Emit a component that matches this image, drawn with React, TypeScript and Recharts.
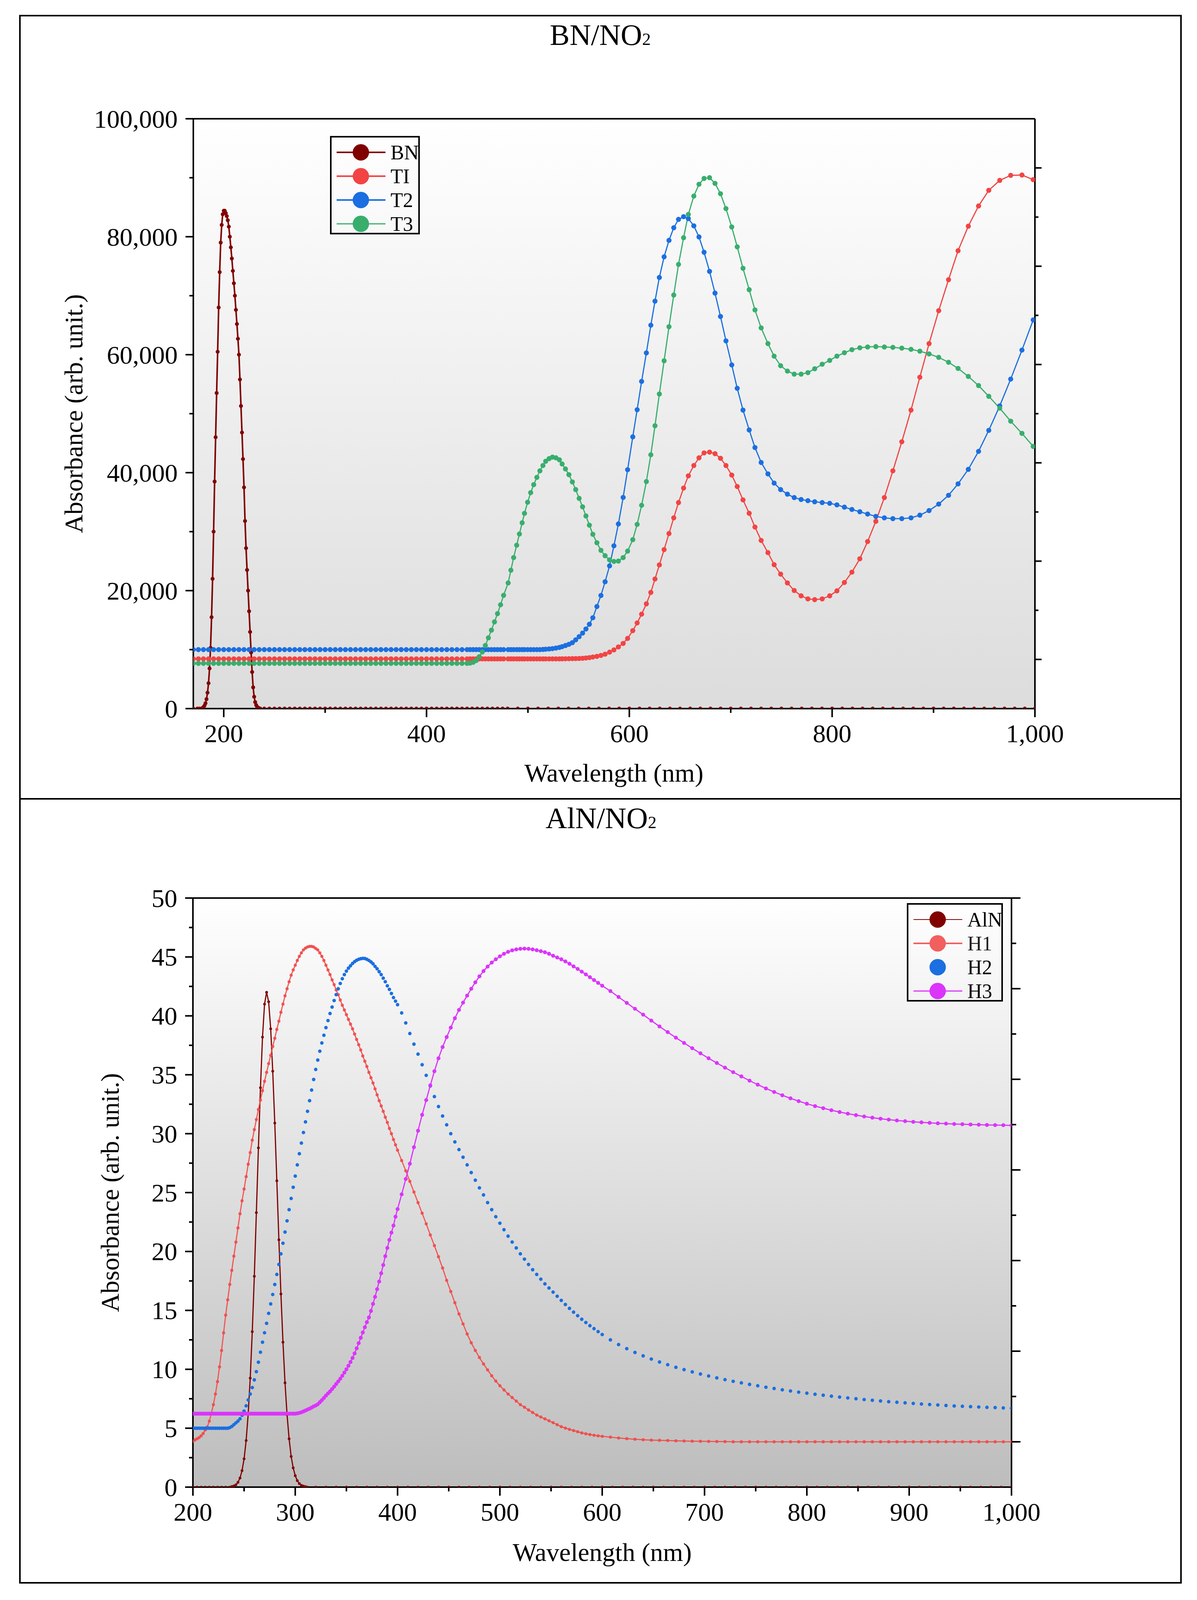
import { LineChart, Line, XAxis, YAxis, CartesianGrid, Legend, ReferenceLine } from "recharts";

const FONT = '"Liberation Serif", "Times New Roman", serif';

// ---------- BN/NO2 panel ----------
const bnWavelength = [
  170, 174, 176,
  178, 179, 180, 181, 182, 183, 184, 185, 186, 187,
  188, 189, 190, 191, 192, 193, 194, 195, 196, 197,
  198, 199, 200, 201, 202, 203, 204, 205, 206, 207,
  208, 209, 210, 211, 212, 213, 214, 215, 216, 217,
  218, 219, 220, 221, 222, 223, 224, 225, 226, 227,
  228, 229, 230, 231, 232, 233, 234, 235, 236,
  240, 245, 250, 255, 260, 265, 270, 275, 280, 285,
  290, 295, 300, 305, 310, 315, 320, 325, 330, 335,
  340, 345, 350, 355, 360, 365, 370, 375, 380, 385,
  390, 395, 400, 405, 410, 415, 420, 425, 430, 435,
  440, 445, 450, 455, 460, 465, 470, 475, 480,
  490, 500, 510, 520, 530, 540, 550, 560, 570, 580,
  590, 600, 610, 620, 630, 640, 650, 660, 670, 680,
  690, 700, 710, 720, 730, 740, 750, 760, 770, 780,
  790, 800, 810, 820, 830, 840, 850, 860, 870, 880,
  890, 900, 910, 920, 930, 940, 950, 960, 970, 980,
  990, 1000,
];
const bnAbsorbance = [
  0, 0, 0,
  0, 100, 250, 500, 900, 1600, 2700, 4300, 6800, 10300,
  15500, 22000, 30000, 38500, 46000, 53500, 60500, 68000, 74000, 79000,
  82000, 83800, 84400, 84400, 84000, 83500, 82800, 81700, 80000, 78200,
  76300, 74200, 72100, 70000, 67600, 65200, 62700, 60000, 55800, 51300,
  46800, 42300, 37500, 31800, 27200, 23500, 20000, 16500, 13000, 9500,
  6200, 3600, 2000, 1100, 600, 300, 150, 50, 0,
  0, 0, 0, 0, 0, 0, 0, 0, 0, 0,
  0, 0, 0, 0, 0, 0, 0, 0, 0, 0,
  0, 0, 0, 0, 0, 0, 0, 0, 0, 0,
  0, 0, 0, 0, 0, 0, 0, 0, 0, 0,
  0, 0, 0, 0, 0, 0, 0, 0, 0,
  0, 0, 0, 0, 0, 0, 0, 0, 0, 0,
  0, 0, 0, 0, 0, 0, 0, 0, 0, 0,
  0, 0, 0, 0, 0, 0, 0, 0, 0, 0,
  0, 0, 0, 0, 0, 0, 0, 0, 0, 0,
  0, 0, 0, 0, 0, 0, 0, 0, 0, 0,
  0, 0,
];

// wavelength grid shared by T1, T2, T3 (flat UV part, then the measured visible part)
const tWavelengthUv = [
  170, 175, 180, 185, 190, 195, 200, 205, 210, 215,
  220, 225, 230, 235, 240, 245, 250, 255, 260, 265,
  270, 275, 280, 285, 290, 295, 300, 305, 310, 315,
  320, 325, 330, 335, 340, 345, 350, 355, 360, 365,
  370, 375, 380, 385, 390, 395, 400, 405, 410, 415,
  420, 425, 430, 435, 440,
  443, 446, 449, 452, 455, 458, 461, 464, 467, 470, 473, 476,
];
const tWavelengthVis = [
  480.5, 483.2, 485.9, 488.9, 491.6, 494.3, 496.6, 499.7, 502.7, 505.7,
  508.8, 511.8, 514.8, 517.5, 520.9, 524.2, 527.6, 531.0, 533.7, 537.0,
  540.4, 543.8, 547.1, 550.5, 553.9, 557.2, 560.6, 564.0, 568.0, 572.0,
  576.1, 580.5, 584.8, 589.2, 593.9, 598.3, 603.4, 607.7, 612.1, 616.8,
  621.2, 625.3, 629.6, 634.3, 639.1, 643.8, 648.5, 653.5, 658.2, 663.6,
  668.7, 673.7, 679.1, 684.5, 689.9, 695.3, 701.0, 706.4, 712.1, 718.2,
  723.9, 730.0, 736.7, 742.8, 749.2, 755.9, 762.6, 769.4, 776.1, 782.8,
  790.2, 797.6, 804.7, 812.1, 819.5, 827.3, 835.0, 843.1, 851.5, 859.9,
  868.7, 877.8, 886.5, 895.6, 905.1, 914.8, 924.2, 934.3, 944.4, 954.5,
  965.3, 976.1, 987.2, 998.3,
];

const t1Uv = [
  8430, 8430, 8430, 8430, 8430, 8430, 8430, 8430, 8430, 8430,
  8430, 8430, 8430, 8430, 8430, 8430, 8430, 8430, 8430, 8430,
  8430, 8430, 8430, 8430, 8430, 8430, 8430, 8430, 8430, 8430,
  8430, 8430, 8430, 8430, 8430, 8430, 8430, 8430, 8430, 8430,
  8430, 8430, 8430, 8430, 8430, 8430, 8430, 8430, 8430, 8430,
  8430, 8430, 8430, 8430, 8430,
  8430, 8430, 8430, 8430, 8430, 8430, 8430, 8430, 8430, 8430, 8430, 8430,
];
const t1Vis = [
  8430, 8430, 8430, 8430, 8430, 8430, 8430, 8430, 8430, 8430,
  8430, 8430, 8430, 8430, 8430, 8430, 8430, 8430, 8440, 8450,
  8460, 8470, 8480, 8500, 8530, 8580, 8650, 8750, 8850, 9010,
  9230, 9570, 9950, 10450, 11050, 11900, 13220, 14520, 16010, 17760,
  19700, 21970, 24360, 26960, 29680, 32340, 34930, 37390, 39460, 41210,
  42510, 43350, 43480, 43220, 42440, 41210, 39590, 37650, 35380, 33110,
  30780, 28510, 26440, 24400, 22800, 21300, 20020, 19120, 18600, 18470,
  18600, 19120, 19960, 21380, 23130, 25400, 28320, 31750, 35770, 40310,
  45230, 50610, 56180, 61880, 67460, 72710, 77630, 81780, 85210, 87870,
  89550, 90400, 90460, 89680,
];

const t2Uv = [
  10000, 10000, 10000, 10000, 10000, 10000, 10000, 10000, 10000, 10000,
  10000, 10000, 10000, 10000, 10000, 10000, 10000, 10000, 10000, 10000,
  10000, 10000, 10000, 10000, 10000, 10000, 10000, 10000, 10000, 10000,
  10000, 10000, 10000, 10000, 10000, 10000, 10000, 10000, 10000, 10000,
  10000, 10000, 10000, 10000, 10000, 10000, 10000, 10000, 10000, 10000,
  10000, 10000, 10000, 10000, 10000,
  10000, 10000, 10000, 10000, 10000, 10000, 10000, 10000, 10000, 10000, 10000, 10000,
];
const t2Vis = [
  10000, 10000, 10000, 10000, 10000, 10000, 10000, 10000, 10000, 10000,
  10000, 10000, 10030, 10070, 10110, 10170, 10260, 10370, 10500, 10690,
  10900, 11180, 11660, 12200, 12800, 13500, 14300, 15400, 17300, 19180,
  21500, 24200, 27600, 31300, 35800, 40500, 46070, 50670, 55470, 60300,
  65000, 69080, 73090, 76590, 79380, 81520, 82940, 83400, 83070, 81840,
  79960, 77370, 74130, 70440, 66480, 62340, 58260, 54300, 50610, 47240,
  44260, 41730, 39790, 38230, 37130, 36350, 35770, 35450, 35250, 35060,
  34930, 34800, 34540, 34150, 33760, 33370, 32980, 32590, 32340, 32210,
  32210, 32340, 32790, 33570, 34670, 36160, 38100, 40560, 43610, 47170,
  51320, 55860, 60780, 65900,
];

const t3Uv = [
  7670, 7670, 7670, 7670, 7670, 7670, 7670, 7670, 7670, 7670,
  7670, 7670, 7670, 7670, 7670, 7670, 7670, 7670, 7670, 7670,
  7670, 7670, 7670, 7670, 7670, 7670, 7670, 7670, 7670, 7670,
  7670, 7670, 7670, 7670, 7670, 7670, 7670, 7670, 7670, 7670,
  7670, 7670, 7670, 7670, 7670, 7670, 7670, 7670, 7670, 7670,
  7670, 7670, 7670, 7670, 7670,
  7720, 7850, 8150, 8800, 9600, 10700, 12000, 13300, 14700, 16100, 17600, 19200,
];
const t3Vis = [
  21300, 23460, 25600, 27700, 29600, 31500, 33100, 34990, 36610, 37970,
  39200, 40310, 41210, 41930, 42380, 42640, 42510, 42180, 41470, 40630,
  39660, 38430, 37130, 35640, 34210, 32660, 31100, 29550, 28120, 26830,
  25920, 25210, 24950, 25010, 25600, 26700, 28640, 31230, 34470, 38490,
  43030, 47950, 53330, 58970, 64740, 70110, 75300, 79830, 83780, 86890,
  88890, 89880, 90010, 89040, 87290, 84760, 81650, 78280, 74650, 71020,
  67590, 64540, 61880, 59750, 58130, 57220, 56700, 56700, 56960, 57610,
  58380, 59030, 59750, 60330, 60850, 61170, 61300, 61370, 61300, 61240,
  61110, 60910, 60590, 60130, 59550, 58710, 57670, 56310, 54760, 52940,
  50930, 48730, 46660, 44450,
];

const bnXTicks = [200, 300, 400, 500, 600, 700, 800, 900, 1000];
const bnYTicks = [0, 10000, 20000, 30000, 40000, 50000, 60000, 70000, 80000, 90000, 100000];
const bnRightTicks = [0, 0.5, 1, 1.5, 2, 2.5, 3, 3.5, 4, 4.5, 5];

// ---------- AlN/NO2 panel ----------
const alnWavelength = [
  200, 204, 208, 212, 216, 220, 224, 228, 232,
  236, 238, 240, 242, 244, 246, 248, 250, 252, 254,
  256, 258, 260, 262, 264, 266, 268, 270, 272, 274,
  276, 278, 280, 282, 284, 286, 288, 290, 292, 294,
  296, 298, 300, 302, 304, 306, 308, 310, 312,
  320, 330, 340, 350, 360, 370, 380, 390, 400, 410,
  420, 430, 440, 450, 460, 470, 480, 490, 500, 510,
  520, 530, 540, 550, 560, 570, 580, 590, 600, 610,
  620, 630, 640, 650, 660, 670, 680, 690, 700, 710,
  720, 730, 740, 750, 760, 770, 780, 790, 800, 810,
  820, 830, 840, 850, 860, 870, 880, 890, 900, 910,
  920, 930, 940, 950, 960, 970, 980, 990, 1000,
];
const alnAbsorbance = [
  0, 0, 0, 0, 0, 0, 0, 0, 0,
  0, 0.05, 0.1, 0.2, 0.41, 0.77, 1.4, 2.4, 3.95, 6.2,
  9.25, 13.2, 17.9, 23.3, 28.8, 33.9, 38.2, 41.0, 42.0, 41.2,
  38.9, 35.3, 30.9, 26.0, 21.0, 16.4, 12.3, 8.85, 6.14, 4.1,
  2.6, 1.63, 0.97, 0.55, 0.3, 0.15, 0.08, 0.04, 0,
  0, 0, 0, 0, 0, 0, 0, 0, 0, 0,
  0, 0, 0, 0, 0, 0, 0, 0, 0, 0,
  0, 0, 0, 0, 0, 0, 0, 0, 0, 0,
  0, 0, 0, 0, 0, 0, 0, 0, 0, 0,
  0, 0, 0, 0, 0, 0, 0, 0, 0, 0,
  0, 0, 0, 0, 0, 0, 0, 0, 0, 0,
  0, 0, 0, 0, 0, 0, 0, 0, 0,
];

// wavelength grid shared by H1, H2, H3
const hWavelengthA = [
  200, 202, 204, 206, 208, 210, 212, 214, 216, 218,
  220, 222, 224, 226, 228, 230, 232, 234, 236, 238,
  240, 242, 244, 246, 248, 250, 252, 254, 256, 258,
  260, 262, 264, 266, 268, 270, 272, 274, 276, 278,
  280, 282, 284, 286, 288, 290, 292, 294, 296, 298,
  300, 302, 304, 306, 308, 310, 312, 314, 316, 318,
  320, 322, 324, 326, 328, 330, 332, 334, 336, 338,
  340, 342, 344, 346, 348, 350, 352, 354, 356, 358,
  360, 362, 364, 366, 368, 370, 372, 374, 376, 378,
  380, 382, 384, 386, 388, 390, 392, 394, 396, 398,
  400,
];
const hWavelengthB = [
  404, 408, 412, 416, 420, 424, 428, 432, 436, 440,
  444, 448, 452, 456, 460, 464, 468, 472, 476, 480,
  484, 488, 492, 496, 500, 504, 508, 512, 516, 520,
  524, 528, 532, 536, 540, 544, 548, 552, 556, 560,
  564, 568, 572, 576, 580, 584, 588, 592, 596, 600,
];
const hWavelengthC = [
  608, 616, 624, 632, 640, 648, 656, 664, 672, 680,
  688, 696, 704, 712, 720, 728, 736, 744, 752, 760,
  768, 776, 784, 792, 800, 808, 816, 824, 832, 840,
  848, 856, 864, 872, 880, 888, 896, 904, 912, 920,
  928, 936, 944, 952, 960, 968, 976, 984, 992, 1000,
];

const h1A = [
  3.9, 4.0, 4.1, 4.2, 4.35, 4.55, 4.85, 5.1, 5.6, 6.25,
  7.0, 7.9, 8.95, 10.2, 11.6, 13.1, 14.6, 15.9, 17.2, 18.4,
  19.6, 20.8, 22.0, 23.2, 24.3, 25.3, 26.35, 27.4, 28.4, 29.45,
  30.35, 31.2, 32.05, 32.85, 33.65, 34.45, 35.2, 35.95, 36.65, 37.4,
  38.1, 38.85, 39.55, 40.3, 41.0, 41.7, 42.3, 42.9, 43.45, 43.9,
  44.3, 44.7, 45.05, 45.35, 45.6, 45.75, 45.85, 45.9, 45.9, 45.85,
  45.72, 45.6, 45.35, 45.05, 44.7, 44.3, 43.9, 43.5, 43.05, 42.65,
  42.2, 41.8, 41.35, 40.9, 40.5, 40.1, 39.7, 39.3, 38.9, 38.45,
  38.0, 37.55, 37.1, 36.6, 36.15, 35.7, 35.2, 34.75, 34.3, 33.8,
  33.3, 32.8, 32.35, 31.9, 31.4, 30.95, 30.45, 30.0, 29.5, 29.05,
  28.6,
];
const h1B = [
  27.72, 26.85, 25.95, 25.05, 24.15, 23.25, 22.35, 21.4, 20.5, 19.55,
  18.6, 17.55, 16.6, 15.65, 14.7, 13.85, 13.0, 12.25, 11.6, 11.0,
  10.45, 9.95, 9.45, 9.0, 8.6, 8.25, 7.9, 7.6, 7.3, 7.0,
  6.78, 6.55, 6.33, 6.12, 5.95, 5.79, 5.63, 5.47, 5.3, 5.13,
  5.01, 4.9, 4.8, 4.7, 4.6, 4.53, 4.46, 4.4, 4.35, 4.31,
];
const h1C = [
  4.24, 4.17, 4.11, 4.06, 4.02, 3.99, 3.97, 3.95, 3.93, 3.91,
  3.9, 3.89, 3.88, 3.87, 3.86, 3.85, 3.85, 3.85, 3.85, 3.85,
  3.85, 3.85, 3.85, 3.85, 3.85, 3.85, 3.85, 3.85, 3.85, 3.85,
  3.85, 3.85, 3.85, 3.85, 3.85, 3.85, 3.85, 3.85, 3.85, 3.85,
  3.85, 3.85, 3.85, 3.85, 3.85, 3.85, 3.85, 3.85, 3.85, 3.85,
];

const h2A = [
  5.0, 5.0, 5.0, 5.0, 5.0, 5.0, 5.0, 5.0, 5.0, 5.0,
  5.0, 5.0, 5.0, 5.0, 5.0, 5.0, 5.0, 5.0, 5.05, 5.15,
  5.3, 5.45, 5.6, 5.8, 6.1, 6.45, 6.9, 7.4, 7.9, 8.45,
  9.1, 9.8, 10.6, 11.45, 12.3, 13.1, 13.9, 14.75, 15.55, 16.35,
  17.2, 18.05, 18.9, 19.8, 20.7, 21.65, 22.6, 23.55, 24.5, 25.45,
  26.4, 27.35, 28.3, 29.2, 30.1, 31.0, 31.9, 32.8, 33.7, 34.6,
  35.45, 36.25, 37.0, 37.7, 38.35, 39.0, 39.6, 40.2, 40.75, 41.3,
  41.8, 42.3, 42.75, 43.15, 43.5, 43.8, 44.05, 44.25, 44.45, 44.6,
  44.72, 44.8, 44.85, 44.88, 44.87, 44.8, 44.7, 44.58, 44.42, 44.2,
  44.0, 43.75, 43.5, 43.2, 42.9, 42.55, 42.25, 41.9, 41.55, 41.25,
  40.95,
];
const h2B = [
  40.25, 39.4, 38.5, 37.6, 36.75, 35.85, 34.95, 34.05, 33.15, 32.3,
  31.5, 30.75, 30.0, 29.3, 28.65, 28.0, 27.35, 26.7, 26.05, 25.4,
  24.8, 24.15, 23.55, 22.95, 22.4, 21.85, 21.3, 20.8, 20.3, 19.8,
  19.35, 18.9, 18.45, 18.05, 17.65, 17.25, 16.9, 16.55, 16.2, 15.85,
  15.5, 15.17, 14.85, 14.55, 14.25, 13.97, 13.7, 13.45, 13.2, 12.95,
];
const h2C = [
  12.5, 12.1, 11.75, 11.43, 11.14, 10.87, 10.62, 10.39, 10.17, 9.97,
  9.78, 9.6, 9.43, 9.27, 9.12, 8.98, 8.85, 8.72, 8.6, 8.48,
  8.37, 8.26, 8.16, 8.06, 7.97, 7.88, 7.8, 7.72, 7.64, 7.57,
  7.5, 7.43, 7.37, 7.31, 7.25, 7.2, 7.15, 7.1, 7.05, 7.01,
  6.97, 6.93, 6.89, 6.86, 6.83, 6.8, 6.77, 6.75, 6.72, 6.7,
];

const h3A = [
  6.23, 6.23, 6.23, 6.23, 6.23, 6.23, 6.23, 6.23, 6.23, 6.23,
  6.23, 6.23, 6.23, 6.23, 6.23, 6.23, 6.23, 6.23, 6.23, 6.23,
  6.23, 6.23, 6.23, 6.23, 6.23, 6.23, 6.23, 6.23, 6.23, 6.23,
  6.23, 6.23, 6.23, 6.23, 6.23, 6.23, 6.23, 6.23, 6.23, 6.23,
  6.23, 6.23, 6.23, 6.23, 6.23, 6.23, 6.23, 6.23, 6.23, 6.23,
  6.23, 6.26, 6.3, 6.35, 6.42, 6.5, 6.58, 6.66, 6.75, 6.85,
  6.93, 7.03, 7.2, 7.38, 7.57, 7.77, 7.95, 8.12, 8.32, 8.53,
  8.75, 8.97, 9.2, 9.45, 9.72, 10.0, 10.3, 10.62, 10.96, 11.35,
  11.78, 12.22, 12.67, 13.12, 13.57, 14.0, 14.4, 14.95, 15.55, 16.15,
  16.8, 17.45, 18.15, 18.85, 19.6, 20.3, 20.98, 21.6, 22.2, 22.95,
  23.6,
];
const h3B = [
  24.85, 26.15, 27.45, 28.85, 30.25, 31.6, 32.85, 34.1, 35.3, 36.4,
  37.35, 38.2, 39.0, 39.8, 40.5, 41.12, 41.72, 42.3, 42.85, 43.35,
  43.8, 44.18, 44.52, 44.8, 45.05, 45.27, 45.43, 45.56, 45.64, 45.69,
  45.71, 45.69, 45.64, 45.57, 45.49, 45.4, 45.27, 45.1, 44.95, 44.8,
  44.62, 44.42, 44.2, 43.98, 43.75, 43.52, 43.28, 43.04, 42.8, 42.56,
];
const h3C = [
  42.1, 41.6, 41.1, 40.6, 40.1, 39.6, 39.1, 38.62, 38.15, 37.7,
  37.25, 36.82, 36.4, 36.0, 35.6, 35.22, 34.86, 34.5, 34.16, 33.84,
  33.54, 33.26, 33.0, 32.76, 32.54, 32.34, 32.16, 31.99, 31.84, 31.7,
  31.57, 31.46, 31.36, 31.27, 31.19, 31.12, 31.06, 31.0, 30.96, 30.92,
  30.88, 30.85, 30.82, 30.8, 30.78, 30.76, 30.74, 30.73, 30.72, 30.7,
];

const alnXTicks = [200, 250, 300, 350, 400, 450, 500, 550, 600, 650, 700, 750, 800, 850, 900, 950, 1000];
const alnYTicks = [0, 2.5, 5, 7.5, 10, 12.5, 15, 17.5, 20, 22.5, 25, 27.5, 30, 32.5, 35, 37.5, 40, 42.5, 45, 47.5, 50];
const alnRightTicks = [0, 0.5, 1, 1.5, 2, 2.5, 3, 3.5, 4, 4.5, 5, 5.5, 6];

type LegendItem = { name: string; color: string; line: boolean; lineWidth: number; opacity?: number };
const bnLegend: LegendItem[] = [
  { name: "BN", color: "#800000", line: true, lineWidth: 4 },
  { name: "TI", color: "#f24444", line: true, lineWidth: 4 },
  { name: "T2", color: "#1b6fe0", line: true, lineWidth: 4 },
  { name: "T3", color: "#38ae6d", line: true, lineWidth: 3 },
];
const alnLegend: LegendItem[] = [
  { name: "AlN", color: "#800000", line: true, lineWidth: 2 },
  { name: "H1", color: "#f24a4a", line: true, lineWidth: 4, opacity: 0.88 },
  { name: "H2", color: "#1b6fe0", line: false, lineWidth: 0 },
  { name: "H3", color: "#db34fb", line: true, lineWidth: 3 },
];

const zip = (xs: number[], ys: number[]) => xs.map((w, i) => ({ w, a: ys[i] }));

const bnData = zip(bnWavelength, bnAbsorbance);
const t1Data = zip([...tWavelengthUv, ...tWavelengthVis], [...t1Uv, ...t1Vis]);
const t2Data = zip([...tWavelengthUv, ...tWavelengthVis], [...t2Uv, ...t2Vis]);
const t3Data = zip([...tWavelengthUv, ...tWavelengthVis], [...t3Uv, ...t3Vis]);

const hWavelength = [...hWavelengthA, ...hWavelengthB, ...hWavelengthC];
const alnData = zip(alnWavelength, alnAbsorbance);
const h1Data = zip(hWavelength, [...h1A, ...h1B, ...h1C]);
const h2Data = zip(hWavelength, [...h2A, ...h2B, ...h2C]);
const h3Data = zip(hWavelength, [...h3A, ...h3B, ...h3C]);

// the browser shows about 4096px of page height, so the sheet is laid out for that
const PAGE_W = 3065;
const PAGE_H = 4096;
const TICK_FONT = 66;
const TITLE_FONT = 76;
const LEGEND_FONT = 52;

const fmt = (v: number) => v.toLocaleString("en-US");

function makeTick(
  side: "left" | "right" | "bottom",
  isMajor: (v: number) => boolean,
  majorLen: number,
  minorLen: number,
  labelled: boolean
) {
  return (props: any) => {
    const { x, y, payload } = props;
    const v = Number(payload.value);
    const major = isMajor(v);
    const len = major ? majorLen : minorLen;
    const label = labelled && major;
    if (side === "bottom") {
      return (
        <g>
          <line x1={x} x2={x} y1={y} y2={y + len} stroke="#000" strokeWidth={4} />
          {label && (
            <text x={x} y={y + 86} textAnchor="middle" fontSize={TICK_FONT} fontFamily={FONT} fill="#000">
              {fmt(v)}
            </text>
          )}
        </g>
      );
    }
    const dir = side === "left" ? -1 : 1;
    return (
      <g>
        <line x1={x} x2={x + dir * len} y1={y} y2={y} stroke="#000" strokeWidth={4} />
        {label && (
          <text x={x - len - 20} y={y} textAnchor="end" dominantBaseline="central" fontSize={TICK_FONT} fontFamily={FONT} fill="#000">
            {fmt(v)}
          </text>
        )}
      </g>
    );
  };
}

function LegendBox({ items, width }: { items: LegendItem[]; width: number }) {
  const h = 252;
  return (
    <svg width={width} height={h} style={{ display: "block", overflow: "visible" }}>
      <rect x={2} y={2} width={width - 4} height={h - 4} fill="none" stroke="#000" strokeWidth={4} />
      {items.map((it, i) => {
        const cy = 42 + i * 61;
        return (
          <g key={it.name} opacity={it.opacity ?? 1}>
            {it.line && <line x1={17} x2={142} y1={cy} y2={cy} stroke={it.color} strokeWidth={it.lineWidth} />}
            <circle cx={79} cy={cy} r={21} fill={it.color} />
            <text x={155} y={cy} dominantBaseline="central" fontSize={LEGEND_FONT} fontFamily={FONT} fill="#000">
              {it.name}
            </text>
          </g>
        );
      })}
    </svg>
  );
}

const axisStroke = { stroke: "#000", strokeWidth: 4 };

function BnPanel() {
  const height = 2045;
  const plotTop = 304;
  const plotBottom = 1814;
  const midY = (plotTop + plotBottom) / 2;
  return (
    <LineChart width={PAGE_W} height={height} margin={{ top: plotTop, right: 0, bottom: 0, left: 0 }}>
      <defs>
        <linearGradient id="bnBg" x1="0" y1="0" x2="0" y2="1">
          <stop offset="0%" stopColor="#ffffff" />
          <stop offset="100%" stopColor="#dcdcdc" />
        </linearGradient>
      </defs>
      <CartesianGrid fill="url(#bnBg)" stroke="none" horizontal={false} vertical={false} />
      <XAxis
        dataKey="w"
        type="number"
        domain={[170, 1000]}
        allowDataOverflow
        ticks={bnXTicks}
        interval={0}
        height={height - plotBottom}
        tickSize={0}
        tickMargin={0}
        tickLine={false}
        axisLine={axisStroke}
        tick={makeTick("bottom", (v) => v % 200 === 0, 22, 11, true)}
      />
      <YAxis
        type="number"
        domain={[0, 100000]}
        allowDataOverflow
        ticks={bnYTicks}
        interval={0}
        width={495}
        tickSize={0}
        tickMargin={0}
        tickLine={false}
        axisLine={axisStroke}
        tick={makeTick("left", (v) => v % 20000 === 0, 20, 10, true)}
      />
      <YAxis
        yAxisId="right"
        orientation="right"
        type="number"
        domain={[-0.5, 5.5]}
        allowDataOverflow
        ticks={bnRightTicks}
        interval={0}
        width={415}
        tickSize={0}
        tickMargin={0}
        tickLine={false}
        axisLine={axisStroke}
        tick={makeTick("right", (v) => Number.isInteger(v), 17, 9, false)}
      />
      <ReferenceLine y={100000} stroke="#000" strokeWidth={4} />
      <Line data={bnData} dataKey="a" name="BN" stroke="#800000" strokeWidth={4}
        dot={{ r: 5, fill: "#800000", stroke: "none" }} activeDot={false} isAnimationActive={false} />
      <Line data={t1Data} dataKey="a" name="TI" stroke="#f24444" strokeWidth={3}
        dot={{ r: 6.5, fill: "#f24444", stroke: "none" }} activeDot={false} isAnimationActive={false} />
      <Line data={t2Data} dataKey="a" name="T2" stroke="#1b6fe0" strokeWidth={3}
        dot={{ r: 6.5, fill: "#1b6fe0", stroke: "none" }} activeDot={false} isAnimationActive={false} />
      <Line data={t3Data} dataKey="a" name="T3" stroke="#38ae6d" strokeWidth={3}
        dot={{ r: 6.5, fill: "#38ae6d", stroke: "none" }} activeDot={false} isAnimationActive={false} />
      <Legend
        layout="horizontal"
        verticalAlign="middle"
        align="center"
        wrapperStyle={{ position: "absolute", left: 845, top: 348, width: 230, height: 252 }}
        content={() => <LegendBox items={bnLegend} width={230} />}
      />
      <text x={1537} y={115} textAnchor="middle" fontSize={TITLE_FONT} fontFamily={FONT} fill="#000">
        BN/NO<tspan fontSize={44}>2</tspan>
      </text>
      <text x={1572} y={plotBottom + 187} textAnchor="middle" fontSize={TICK_FONT} fontFamily={FONT} fill="#000">
        Wavelength (nm)
      </text>
      <text
        x={188}
        y={midY}
        textAnchor="middle"
        dominantBaseline="central"
        transform={`rotate(-90, 188, ${midY})`}
        fontSize={TICK_FONT}
        fontFamily={FONT}
        fill="#000"
      >
        Absorbance (arb. unit.)
      </text>
    </LineChart>
  );
}

function AlnPanel() {
  const height = PAGE_H - 2045;
  const plotTop = 254;
  const plotBottom = 1762;
  const midY = (plotTop + plotBottom) / 2;
  return (
    <LineChart width={PAGE_W} height={height} margin={{ top: plotTop, right: 0, bottom: 0, left: 0 }}>
      <defs>
        <linearGradient id="alnBg" x1="0" y1="0" x2="0" y2="1">
          <stop offset="0%" stopColor="#ffffff" />
          <stop offset="100%" stopColor="#bdbdbd" />
        </linearGradient>
      </defs>
      <CartesianGrid fill="url(#alnBg)" stroke="none" horizontal={false} vertical={false} />
      <XAxis
        dataKey="w"
        type="number"
        domain={[200, 1000]}
        allowDataOverflow
        ticks={alnXTicks}
        interval={0}
        height={height - plotBottom}
        tickSize={0}
        tickMargin={0}
        tickLine={false}
        axisLine={axisStroke}
        tick={makeTick("bottom", (v) => v % 100 === 0, 22, 11, true)}
      />
      <YAxis
        type="number"
        domain={[0, 50]}
        allowDataOverflow
        ticks={alnYTicks}
        interval={0}
        width={494}
        tickSize={0}
        tickMargin={0}
        tickLine={false}
        axisLine={axisStroke}
        tick={makeTick("left", (v) => v % 5 === 0, 20, 10, true)}
      />
      <YAxis
        yAxisId="right"
        orientation="right"
        type="number"
        domain={[-0.5, 6]}
        allowDataOverflow
        ticks={alnRightTicks}
        interval={0}
        width={475}
        tickSize={0}
        tickMargin={0}
        tickLine={false}
        axisLine={axisStroke}
        tick={makeTick("right", (v) => Number.isInteger(v), 23, 12, false)}
      />
      <ReferenceLine y={50} stroke="#000" strokeWidth={4} />
      <Line data={alnData} dataKey="a" name="AlN" stroke="#800000" strokeWidth={3}
        dot={{ r: 3.5, fill: "#800000", stroke: "none" }} activeDot={false} isAnimationActive={false} />
      <Line data={h1Data} dataKey="a" name="H1" stroke="#f24a4a" strokeWidth={3} strokeOpacity={0.9}
        dot={{ r: 4, fill: "#f24a4a", fillOpacity: 0.9, stroke: "none" }} activeDot={false} isAnimationActive={false} />
      <Line data={h2Data} dataKey="a" name="H2" stroke="none" strokeWidth={0}
        dot={{ r: 4.5, fill: "#1b6fe0", stroke: "none" }} activeDot={false} isAnimationActive={false} />
      <Line data={h3Data} dataKey="a" name="H3" stroke="#db34fb" strokeWidth={3}
        dot={{ r: 5, fill: "#db34fb", stroke: "none" }} activeDot={false} isAnimationActive={false} />
      <Legend
        layout="horizontal"
        verticalAlign="middle"
        align="center"
        wrapperStyle={{ position: "absolute", left: 2322, top: 267, width: 246, height: 252 }}
        content={() => <LegendBox items={alnLegend} width={246} />}
      />
      <text x={1539} y={75} textAnchor="middle" fontSize={TITLE_FONT} fontFamily={FONT} fill="#000">
        AlN/NO<tspan fontSize={44}>2</tspan>
      </text>
      <text x={1542} y={plotBottom + 189} textAnchor="middle" fontSize={TICK_FONT} fontFamily={FONT} fill="#000">
        Wavelength (nm)
      </text>
      <text
        x={281}
        y={midY}
        textAnchor="middle"
        dominantBaseline="central"
        transform={`rotate(-90, 281, ${midY})`}
        fontSize={TICK_FONT}
        fontFamily={FONT}
        fill="#000"
      >
        Absorbance (arb. unit.)
      </text>
    </LineChart>
  );
}

export default function App() {
  // page-sized sheet kept in normal flow (the negative margin cancels the body margin)
  return (
    <div
      style={{
        position: "relative",
        width: PAGE_W,
        height: PAGE_H,
        margin: -8,
        background: "#fff",
        overflow: "hidden",
        fontFamily: FONT,
      }}
    >
      <div
        style={{
          position: "absolute",
          left: 49,
          top: 38,
          width: 2977,
          height: 4016,
          border: "4px solid #000",
          boxSizing: "border-box",
        }}
      />
      <div style={{ position: "absolute", left: 49, top: 2043, width: 2977, height: 4, background: "#000" }} />
      <div style={{ position: "absolute", left: 0, top: 0 }}>
        <BnPanel />
      </div>
      <div style={{ position: "absolute", left: 0, top: 2045 }}>
        <AlnPanel />
      </div>
    </div>
  );
}
